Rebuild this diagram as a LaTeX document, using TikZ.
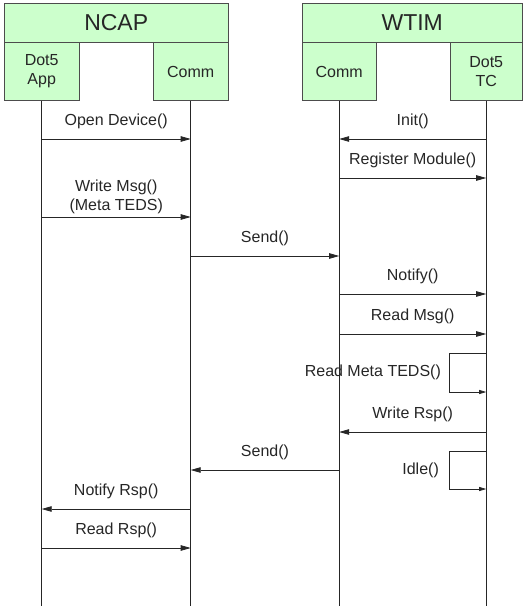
\documentclass[tikz,border=0pt]{standalone}
\usepackage{fontspec}
\setmainfont{Liberation Sans}
\usetikzlibrary{arrows.meta, positioning}
\definecolor{boxgreen}{RGB}{204,255,204}

\begin{document}
\begin{tikzpicture}[
  x=1pt, y=-1pt,
  head/.style = {draw=black!70, fill=boxgreen, minimum width=220pt,
                 minimum height=39pt, inner sep=0pt,
                 font=\fontsize{23}{27}\selectfont, text=black!85},
  part/.style = {draw=black!70, fill=boxgreen, minimum width=74pt,
                 minimum height=58pt, inner sep=0pt, align=center,
                 font=\fontsize{16}{19}\selectfont, text=black!85},
  life/.style = {draw=black!85, line width=1.1pt},
  msg/.style  = {draw=black!85, line width=0.8pt,
                 -{Triangle[length=10pt,width=5.5pt]}},
  selfmsg/.style = {draw=black!85, line width=0.7pt,
                 -{Triangle[length=7pt,width=4pt]}},
  lab/.style  = {font=\fontsize{16}{19}\selectfont, text=black!85,
                 align=center, inner sep=0pt},
  msglab/.style = {lab, anchor=base, yshift=14pt}
]
\useasboundingbox (0,0) rectangle (523,607);

% headers and participants
\node[head, minimum width=224pt, anchor=north west] (ncap) at (4,3) {NCAP};
\node[head, anchor=north west] (wtim) at (302,3) {WTIM};

\node[part, minimum width=75pt, anchor=north west] (appbox) at (ncap.south west) {Dot5\\App};
\node[part, minimum width=75pt, anchor=north east] (ncommbox) at (ncap.south east) {Comm};
\node[part, anchor=north west] (wcommbox) at (wtim.south west) {Comm};
\node[part, minimum width=72pt, anchor=north east] (tcbox) at (wtim.south east) {Dot5\\TC};

% lifelines
\foreach \b/\n in {appbox/app, ncommbox/ncomm, wcommbox/wcomm, tcbox/tc} {
  \coordinate (\n) at (\b.south |- 0,606);
  \draw[life] (\b.south) -- (\n);
}

% messages
\foreach \y/\a/\b/\txt in {
    139/app/ncomm/Open Device(),
    139/tc/wcomm/Init(),
    178/wcomm/tc/Register Module(),
    256/ncomm/wcomm/Send(),
    294/wcomm/tc/Notify(),
    334/wcomm/tc/Read Msg(),
    432/tc/wcomm/Write Rsp(),
    470/wcomm/ncomm/Send(),
    509/ncomm/app/Notify Rsp(),
    548/app/ncomm/Read Rsp()} {
  \draw[msg] (\a |- 0,\y) -- node[midway, msglab] {\txt} (\b |- 0,\y);
}

\draw[msg] (app |- 0,217) -- node[midway, lab, anchor=south, yshift=2.5pt]
  {Write Msg()\\(Meta TEDS)} (ncomm |- 0,217);

% self calls on Dot5 TC
\draw[selfmsg] (tc |- 0,353) -- ++(-37,0)
  -- node[midway, lab, anchor=east, xshift=-8pt] {Read Meta TEDS()} ++(0,39)
  -- (tc |- 0,392);
\draw[selfmsg] (tc |- 0,451) -- ++(-37,0)
  -- node[midway, lab, anchor=east, xshift=-10pt] {Idle()} ++(0,38)
  -- (tc |- 0,489);
\end{tikzpicture}
\end{document}
